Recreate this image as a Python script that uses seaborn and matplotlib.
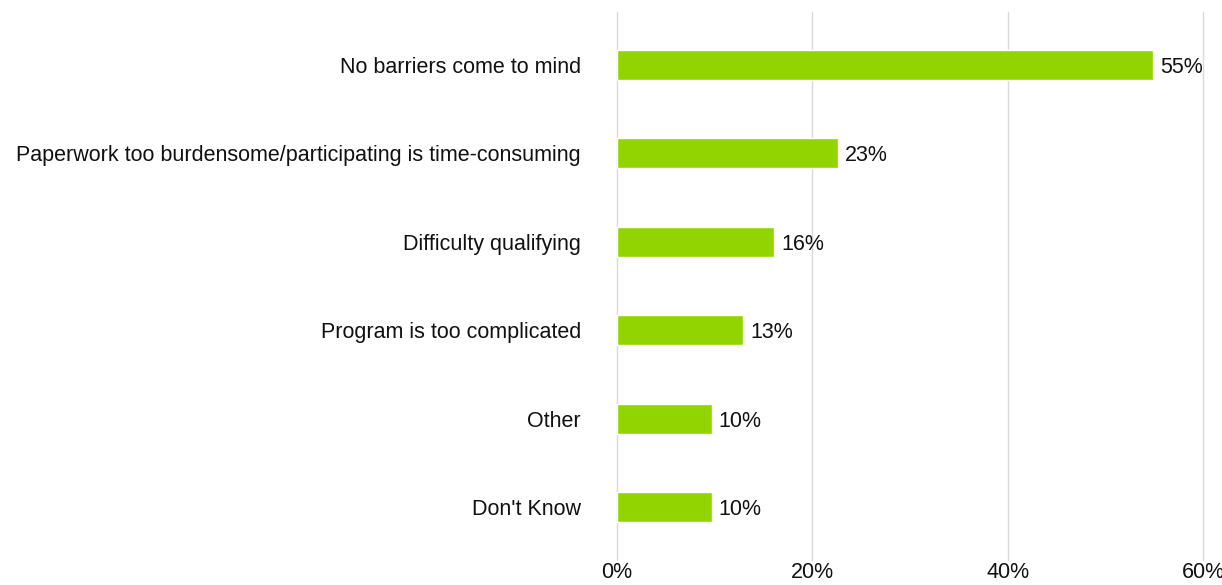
import matplotlib
matplotlib.use("Agg")
import matplotlib.pyplot as plt
import seaborn as sns
import pandas as pd
from matplotlib.ticker import FuncFormatter

categories = [
    "No barriers come to mind",
    "Paperwork too burdensome/participating is time-consuming",
    "Difficulty qualifying",
    "Program is too complicated",
    "Other",
    "Don't Know",
]
values = [54.9, 22.6, 16.1, 12.9, 9.7, 9.7]
value_labels = ["55%", "23%", "16%", "13%", "10%", "10%"]
x_ticks = [0, 20, 40, 60]

sns.set_theme(style="white")
plt.rcParams["font.family"] = ["Liberation Sans", "DejaVu Sans"]

df = pd.DataFrame({"category": categories, "value": values})

fig = plt.figure(figsize=(12.22, 5.85), dpi=100)
ax = fig.add_axes([0.5049, 0.0427, 0.4796, 0.9368])

sns.barplot(data=df, y="category", x="value", orient="h", color="#92d400",
            width=0.34, saturation=1, ax=ax)

ax.set_xlim(0, 60)
ax.set_ylim(5.6, -0.6)
ax.set_xticks(x_ticks)
ax.xaxis.set_major_formatter(FuncFormatter(lambda v, p: f"{v:.0f}%"))
ax.grid(axis="x", color="#d9d9d9", linewidth=1, clip_on=False)
ax.set_axisbelow(True)
for s in ax.spines.values():
    s.set_visible(False)
ax.set_xlabel("")
ax.set_ylabel("")
ax.tick_params(axis="y", length=0, pad=26, labelsize=15.5, labelcolor="#111111")
ax.tick_params(axis="x", length=0, pad=1.5, labelsize=15.5, labelcolor="#111111")

for cont in ax.containers:
    texts = ax.bar_label(cont, labels=value_labels, padding=5,
                         fontsize=15.5, color="#111111")
    for t in texts:
        t.set_va("center_baseline")

fig.savefig("out.png", dpi=100)
